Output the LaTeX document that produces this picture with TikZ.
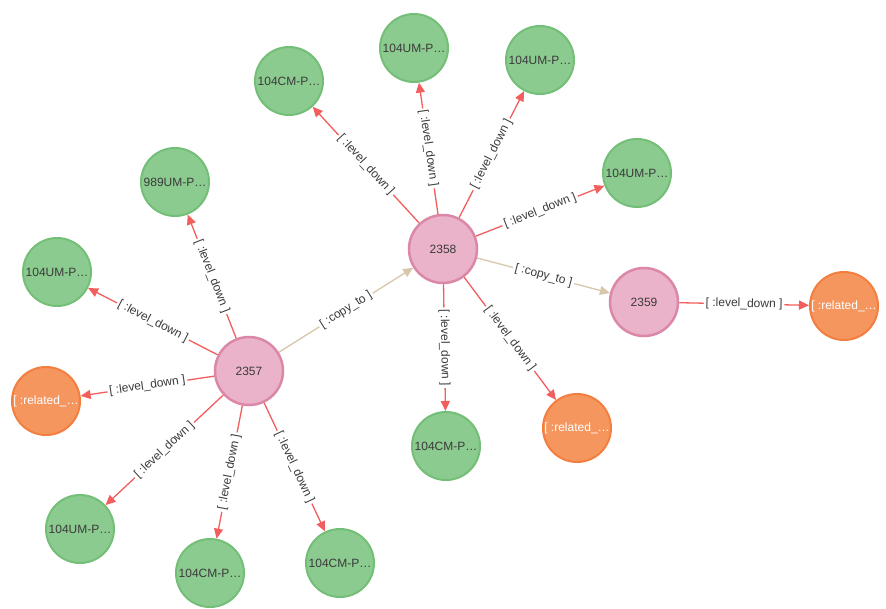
\documentclass[tikz,border=0pt]{standalone}
\usepackage{fontspec}
\setmainfont{Liberation Sans}
\usetikzlibrary{arrows.meta}
\definecolor{pinkfill}{HTML}{EBB3C9}
\definecolor{pinkline}{HTML}{DB87A7}
\definecolor{greenfill}{HTML}{8CCB8F}
\definecolor{greenline}{HTML}{74BF78}
\definecolor{orangefill}{HTML}{F5965F}
\definecolor{orangeline}{HTML}{F27F3F}
\definecolor{relred}{HTML}{F25E5E}
\definecolor{reltan}{HTML}{D8C7AB}
\definecolor{txt}{HTML}{3A3A3A}
\tikzset{
  base/.style={circle,minimum size=68pt,inner sep=0pt,font=\fontsize{12}{14}\selectfont},
  pinknode/.style={base,fill=pinkfill,draw=pinkline,line width=2.5pt,text=txt},
  greennode/.style={base,fill=greenfill,draw=greenline,line width=2pt,text=txt},
  orangenode/.style={base,fill=orangefill,draw=orangeline,line width=2pt,text=white},
  rel/.style={draw=relred,line width=1.3pt,-{Triangle[length=10pt,width=9pt]}},
  copyrel/.style={draw=reltan,line width=1.3pt,-{Triangle[length=10pt,width=9pt]}},
  lbl/.style={fill=white,inner sep=2pt,text=txt,sloped,midway,font=\fontsize{12}{14}\selectfont}
}
\begin{document}
\begin{tikzpicture}[x=1pt,y=-1pt]
\useasboundingbox[fill=white] (0,0) rectangle (886,608);
\node[pinknode] (n2358) at (443,249) {2358};
\node[pinknode] (n2357) at (249,371) {2357};
\node[pinknode] (n2359) at (644,302) {2359};
\node[greennode] (g1) at (289,81) {104CM-P…};
\node[greennode] (g2) at (414,48) {104UM-P…};
\node[greennode] (g3) at (540,60) {104UM-P…};
\node[greennode] (g4) at (637,173) {104UM-P…};
\node[greennode] (g5) at (446,446) {104CM-P…};
\node[greennode] (g6) at (175,182) {989UM-P…};
\node[greennode] (g7) at (57,272) {104UM-P…};
\node[greennode] (g8) at (80,529) {104UM-P…};
\node[greennode] (g9) at (210,573) {104CM-P…};
\node[greennode] (g10) at (340,563) {104CM-P…};
\node[orangenode] (o1) at (46,401) {[ :related\_…};
\node[orangenode] (o2) at (577,428) {[ :related\_…};
\node[orangenode] (o3) at (844,306) {[ :related\_…};
% from 2358
\draw[rel] (n2358) -- node[lbl]{[ :level\_down ]} (g1);
\draw[rel] (n2358) -- node[lbl]{[ :level\_down ]} (g2);
\draw[rel] (n2358) -- node[lbl]{[ :level\_down ]} (g3);
\draw[rel] (n2358) -- node[lbl]{[ :level\_down ]} (g4);
\draw[rel] (n2358) -- node[lbl]{[ :level\_down ]} (g5);
\draw[rel] (n2358) -- node[lbl]{[ :level\_down ]} (o2);
\draw[copyrel] (n2358) -- node[lbl]{[ :copy\_to ]} (n2359);
% from 2357
\draw[rel] (n2357) -- node[lbl]{[ :level\_down ]} (g6);
\draw[rel] (n2357) -- node[lbl]{[ :level\_down ]} (g7);
\draw[rel] (n2357) -- node[lbl]{[ :level\_down ]} (o1);
\draw[rel] (n2357) -- node[lbl]{[ :level\_down ]} (g8);
\draw[rel] (n2357) -- node[lbl]{[ :level\_down ]} (g9);
\draw[rel] (n2357) -- node[lbl]{[ :level\_down ]} (g10);
\draw[copyrel] (n2357) -- node[lbl]{[ :copy\_to ]} (n2358);
% from 2359
\draw[rel] (n2359) -- node[lbl]{[ :level\_down ]} (o3);
\end{tikzpicture}
\end{document}
